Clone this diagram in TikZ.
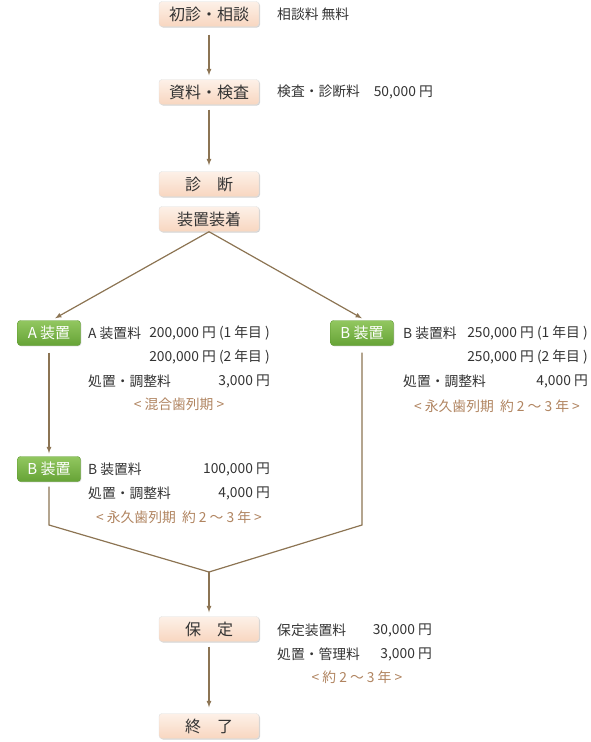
\documentclass[tikz,border=0pt]{standalone}
\usepackage{fontspec}
\setmainfont{Noto Sans CJK JP}
\usetikzlibrary{shadows}
\definecolor{linebrown}{HTML}{8C7453}
\definecolor{notebrown}{HTML}{B08460}
\definecolor{textgrey}{HTML}{333333}
\definecolor{peachtop}{HTML}{FDF1E8}
\definecolor{peachbot}{HTML}{F8D6C0}
\definecolor{greentop}{HTML}{92C760}
\definecolor{greenbot}{HTML}{66A336}
\definecolor{greenedge}{HTML}{5E9A30}
\begin{document}
\begin{tikzpicture}
                    [x=1pt,y=-1pt,
                     stepbox/.style={rounded corners=3pt,minimum width=100pt,minimum height=25pt,inner sep=0pt,
                        top color=peachtop,bottom color=peachbot,draw=black!12,
                        drop shadow={shadow xshift=1pt,shadow yshift=-1pt,opacity=0.35},
                        font=\fontsize{16}{18}\selectfont,text=textgrey},
                     greenbox/.style={rounded corners=3pt,minimum width=63pt,minimum height=25pt,inner sep=0pt,
                        top color=greentop,bottom color=greenbot,draw=greenedge,
                        drop shadow={shadow xshift=0.8pt,shadow yshift=-0.8pt,opacity=0.3},
                        font=\fontsize{15}{17}\selectfont,text=white},
                     note/.style={font=\fontsize{13.8}{16}\selectfont,text=textgrey,inner sep=0pt},
                     period/.style={font=\fontsize{13.8}{16}\selectfont,text=notebrown,inner sep=0pt},
                     flow/.style={linebrown,line width=1.2pt},
                     >=latex]

                    \useasboundingbox (0,0) rectangle (590,742);

                    % Main steps
                    \node [stepbox] (consult) at (209,14) {初診・相談};
                    \node [stepbox] (exam) at (209,92) {資料・検査};
                    \node [stepbox] (diag) at (209,184) {診　断};
                    \node [stepbox] (mount) at (209,219) {装置装着};
                    \node [stepbox] (hold) at (209,629) {保　定};
                    \node [stepbox] (finish) at (209,726) {終　了};

                    % Devices
                    \node [greenbox] (devA) at (49,333) {A 装置};
                    \node [greenbox] (devBr) at (362,333) {B 装置};
                    \node [greenbox] (devBl) at (49,469) {B 装置};

                    % Fees, main column
                    \node [note,anchor=west] (feeC) at (277,14) {相談料 無料};
                    \node [note,anchor=west] (feeE) at (277,92) {検査・診断料　50,000 円};
                    \node [note,anchor=west] (feeH1) at (277,630) {保定装置料};
                    \node [note,anchor=east] (feeH1v) at (432,630) {30,000 円};
                    \node [note,anchor=west] (feeH2) at (277,654) {処置・管理料};
                    \node [note,anchor=east] (feeH2v) at (432,654) {3,000 円};
                    \node [period] (perH) at (357,677) {< 約 2 〜 3 年 >};

                    % Fees, A device
                    \node [note,anchor=west] (feeA1) at (88,333) {A 装置料};
                    \node [note,anchor=east] (feeA1v) at (270,333) {200,000 円 (1 年目 )};
                    \node [note,anchor=east] (feeA2v) at (270,357) {200,000 円 (2 年目 )};
                    \node [note,anchor=west] (feeA3) at (88,381) {処置・調整料};
                    \node [note,anchor=east] (feeA3v) at (270,381) {3,000 円};
                    \node [period] (perA) at (179,404) {< 混合歯列期 >};

                    % Fees, B device right
                    \node [note,anchor=west] (feeR1) at (403,333) {B 装置料};
                    \node [note,anchor=east] (feeR1v) at (588,333) {250,000 円 (1 年目 )};
                    \node [note,anchor=east] (feeR2v) at (588,357) {250,000 円 (2 年目 )};
                    \node [note,anchor=west] (feeR3) at (403,381) {処置・調整料};
                    \node [note,anchor=east] (feeR3v) at (588,381) {4,000 円};
                    \node [period] (perR) at (497,406) {< 永久歯列期\ \ 約 2 〜 3 年 >};

                    % Fees, B device left
                    \node [note,anchor=west] (feeL1) at (88,469) {B 装置料};
                    \node [note,anchor=east] (feeL1v) at (270,469) {100,000 円};
                    \node [note,anchor=west] (feeL2) at (88,493) {処置・調整料};
                    \node [note,anchor=east] (feeL2v) at (270,493) {4,000 円};
                    \node [period] (perL) at (179,517) {< 永久歯列期\ \ 約 2 〜 3 年 >};

                    % Arrows
                    \draw [flow,->] ([yshift=-8pt]consult.south) -- ([yshift=4pt]exam.north);
                    \draw [flow,->] ([yshift=-5pt]exam.south) -- ([yshift=6pt]diag.north);
                    \draw [flow,->] (mount.south) -- ([xshift=6pt,yshift=2pt]devA.north);
                    \draw [flow,->] (mount.south) -- ([yshift=2pt]devBr.north);
                    \draw [flow,->] ([yshift=-7pt]devA.south) -- ([yshift=3pt]devBl.north);

                    % Merge
                    \coordinate (merge) at (209,572);
                    \coordinate (bendL) at (49,525);
                    \coordinate (bendR) at (362,525);
                    \draw [flow] ([yshift=-5pt]devBl.south) -- (bendL) -- (merge) -- (bendR) -- ([yshift=-7pt]devBr.south);
                    \draw [flow,->] (merge) -- ([yshift=4pt]hold.north);
                    \draw [flow,->] ([yshift=-5pt]hold.south) -- ([yshift=6pt]finish.north);
                \end{tikzpicture}
\end{document}
